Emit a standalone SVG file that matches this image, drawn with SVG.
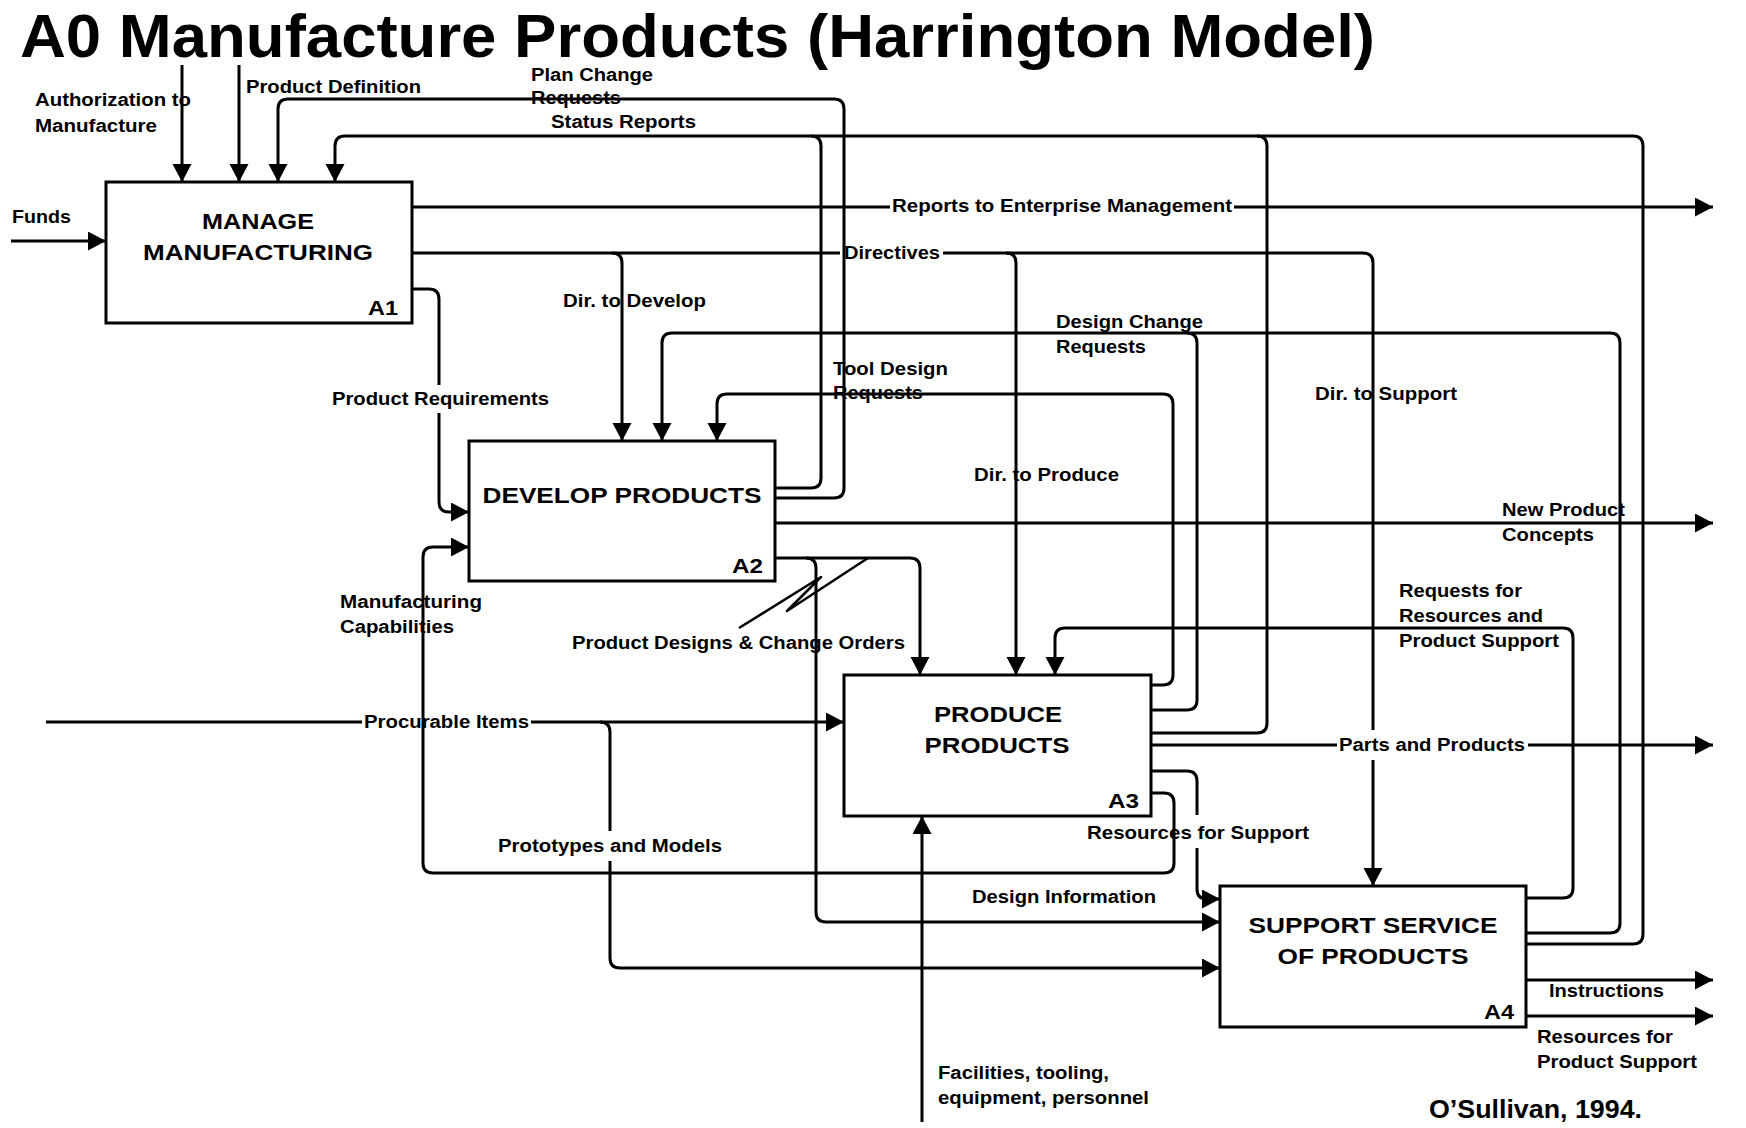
<svg xmlns="http://www.w3.org/2000/svg" width="1746" height="1128" viewBox="0 0 1746 1128">
<style>
  .box { fill: #fff; stroke: #000; stroke-width: 3; }
  .c { fill: none; stroke: #000; stroke-width: 3; stroke-linejoin: round; }
  .a { marker-end: url(#arr); }
  text { font-family: "Liberation Sans", Arial, sans-serif; font-weight: bold; fill: #000; }
  .lbl { font-size: 17.5px; }
  .nm { font-size: 22.5px; text-anchor: middle; }
  .id { font-size: 20px; text-anchor: end; }
</style>
<defs>
  <marker id="arr" markerUnits="userSpaceOnUse" markerWidth="20" markerHeight="20" refX="18" refY="9.5" orient="auto" viewBox="0 0 20 20">
    <path d="M0,0 L18,9.5 L0,19 z" fill="#000"/>
  </marker>
</defs>
<rect width="1746" height="1128" fill="#fff"/>
<text x="20" y="57" font-size="61" textLength="1355" lengthAdjust="spacingAndGlyphs">A0 Manufacture Products (Harrington Model)</text>

<g id="connectors">
  <path class="c a" d="M182,65 V182"/>
  <path class="c a" d="M239,65 V182"/>
  <path class="c a" d="M11,241 H106"/>
  <path class="c a" d="M775,498 H834 Q844,498 844,488 V109 Q844,99 834,99 H288 Q278,99 278,109 V182"/>
  <path class="c a" d="M1526,944 H1633 Q1643,944 1643,934 V146 Q1643,136 1633,136 H345 Q335,136 335,146 V182"/>
  <path class="c" d="M775,488 H811 Q821,488 821,478 V146 Q821,136 811,136"/>
  <path class="c" d="M1151,733 H1257 Q1267,733 1267,723 V146 Q1267,136 1257,136"/>
  <path class="c a" d="M412,207 H890 M1234,207 H1713"/>
  <path class="c a" d="M412,253 H840 M943,253 H1363 Q1373,253 1373,263 V730 M1373,760 V886"/>
  <path class="c a" d="M612,253 Q622,253 622,263 V441"/>
  <path class="c a" d="M1006,253 Q1016,253 1016,263 V675"/>
  <path class="c a" d="M412,289 H429 Q439,289 439,299 V385 M439,413 V502 Q439,512 449,512 H469"/>
  <path class="c a" d="M1526,933 H1610 Q1620,933 1620,923 V343 Q1620,333 1610,333 H672 Q662,333 662,343 V441"/>
  <path class="c" d="M1151,710 H1187 Q1197,710 1197,700 V343 Q1197,333 1187,333"/>
  <path class="c a" d="M1151,685 H1163 Q1173,685 1173,675 V404 Q1173,394 1163,394 H727 Q717,394 717,404 V441"/>
  <path class="c a" d="M1151,793 H1164 Q1174,793 1174,803 V863 Q1174,873 1164,873 H433 Q423,873 423,863 V557 Q423,547 433,547 H469"/>
  <path class="c a" d="M775,523 H1713"/>
  <path class="c a" d="M775,558 H910 Q920,558 920,568 V675"/>
  <path class="c a" d="M806,558 Q816,558 816,568 V912 Q816,922 826,922 H1220"/>
  <path class="c" style="stroke-width:2.5" d="M739,628 L821,577 L787,611 L868,558"/>
  <path class="c a" d="M46,722 H362 M531,722 H844"/>
  <path class="c a" d="M600,722 Q610,722 610,732 V831 M610,861 V958 Q610,968 620,968 H1220"/>
  <path class="c a" d="M1526,898 H1563 Q1573,898 1573,888 V638 Q1573,628 1563,628 H1065 Q1055,628 1055,638 V675"/>
  <path class="c a" d="M1151,745 H1337 M1528,745 H1713"/>
  <path class="c a" d="M1151,771 H1187 Q1197,771 1197,781 V815 M1197,848 V889 Q1197,899 1207,899 H1220"/>
  <path class="c a" d="M922,1122 V816"/>
  <path class="c a" d="M1526,980 H1713"/>
  <path class="c a" d="M1526,1016 H1713"/>
</g>

<g id="A1">
  <rect class="box" x="106" y="182" width="306" height="141"/>
  <text class="nm" x="258" y="229" textLength="112" lengthAdjust="spacingAndGlyphs">MANAGE</text>
  <text class="nm" x="258" y="260" textLength="230" lengthAdjust="spacingAndGlyphs">MANUFACTURING</text>
  <text class="id" x="398" y="315" textLength="30" lengthAdjust="spacingAndGlyphs">A1</text>
</g>
<g id="A2">
  <rect class="box" x="469" y="441" width="306" height="140"/>
  <text class="nm" x="622" y="503" textLength="279" lengthAdjust="spacingAndGlyphs">DEVELOP PRODUCTS</text>
  <text class="id" x="763" y="573" textLength="31" lengthAdjust="spacingAndGlyphs">A2</text>
</g>
<g id="A3">
  <rect class="box" x="844" y="675" width="307" height="141"/>
  <text class="nm" x="998" y="722" textLength="128" lengthAdjust="spacingAndGlyphs">PRODUCE</text>
  <text class="nm" x="997" y="753" textLength="145" lengthAdjust="spacingAndGlyphs">PRODUCTS</text>
  <text class="id" x="1139" y="808" textLength="31" lengthAdjust="spacingAndGlyphs">A3</text>
</g>
<g id="A4">
  <rect class="box" x="1220" y="886" width="306" height="141"/>
  <text class="nm" x="1373" y="933" textLength="249" lengthAdjust="spacingAndGlyphs">SUPPORT SERVICE</text>
  <text class="nm" x="1373" y="964" textLength="191" lengthAdjust="spacingAndGlyphs">OF PRODUCTS</text>
  <text class="id" x="1514" y="1019" textLength="30" lengthAdjust="spacingAndGlyphs">A4</text>
</g>

<g id="labels" class="lbl">
  <text class="lbl" x="35" y="106" textLength="156" lengthAdjust="spacingAndGlyphs">Authorization to</text>
  <text class="lbl" x="35" y="132" textLength="122" lengthAdjust="spacingAndGlyphs">Manufacture</text>
  <text class="lbl" x="246" y="93" textLength="175" lengthAdjust="spacingAndGlyphs">Product Definition</text>
  <text class="lbl" x="12" y="223" textLength="59" lengthAdjust="spacingAndGlyphs">Funds</text>
  <text class="lbl" x="531" y="81" textLength="122" lengthAdjust="spacingAndGlyphs">Plan Change</text>
  <text class="lbl" x="531" y="104" textLength="90" lengthAdjust="spacingAndGlyphs">Requests</text>
  <text class="lbl" x="551" y="128" textLength="145" lengthAdjust="spacingAndGlyphs">Status Reports</text>
  <text class="lbl" x="892" y="212" textLength="340" lengthAdjust="spacingAndGlyphs">Reports to Enterprise Management</text>
  <text class="lbl" x="844" y="259" textLength="96" lengthAdjust="spacingAndGlyphs">Directives</text>
  <text class="lbl" x="563" y="307" textLength="143" lengthAdjust="spacingAndGlyphs">Dir. to Develop</text>
  <text class="lbl" x="1056" y="328" textLength="147" lengthAdjust="spacingAndGlyphs">Design Change</text>
  <text class="lbl" x="1056" y="353" textLength="90" lengthAdjust="spacingAndGlyphs">Requests</text>
  <text class="lbl" x="833" y="375" textLength="115" lengthAdjust="spacingAndGlyphs">Tool Design</text>
  <text class="lbl" x="833" y="399" textLength="90" lengthAdjust="spacingAndGlyphs">Requests</text>
  <text class="lbl" x="332" y="405" textLength="217" lengthAdjust="spacingAndGlyphs">Product Requirements</text>
  <text class="lbl" x="340" y="608" textLength="142" lengthAdjust="spacingAndGlyphs">Manufacturing</text>
  <text class="lbl" x="340" y="633" textLength="114" lengthAdjust="spacingAndGlyphs">Capabilities</text>
  <text class="lbl" x="364" y="728" textLength="165" lengthAdjust="spacingAndGlyphs">Procurable Items</text>
  <text class="lbl" x="572" y="649" textLength="333" lengthAdjust="spacingAndGlyphs">Product Designs &amp; Change Orders</text>
  <text class="lbl" x="974" y="481" textLength="145" lengthAdjust="spacingAndGlyphs">Dir. to Produce</text>
  <text class="lbl" x="1315" y="400" textLength="142" lengthAdjust="spacingAndGlyphs">Dir. to Support</text>
  <text class="lbl" x="1502" y="516" textLength="123" lengthAdjust="spacingAndGlyphs">New Product</text>
  <text class="lbl" x="1502" y="541" textLength="92" lengthAdjust="spacingAndGlyphs">Concepts</text>
  <text class="lbl" x="1399" y="597" textLength="123" lengthAdjust="spacingAndGlyphs">Requests for</text>
  <text class="lbl" x="1399" y="622" textLength="144" lengthAdjust="spacingAndGlyphs">Resources and</text>
  <text class="lbl" x="1399" y="647" textLength="160" lengthAdjust="spacingAndGlyphs">Product Support</text>
  <text class="lbl" x="1339" y="751" textLength="186" lengthAdjust="spacingAndGlyphs">Parts and Products</text>
  <text class="lbl" x="1087" y="839" textLength="222" lengthAdjust="spacingAndGlyphs">Resources for Support</text>
  <text class="lbl" x="498" y="852" textLength="224" lengthAdjust="spacingAndGlyphs">Prototypes and Models</text>
  <text class="lbl" x="972" y="903" textLength="184" lengthAdjust="spacingAndGlyphs">Design Information</text>
  <text class="lbl" x="938" y="1079" textLength="171" lengthAdjust="spacingAndGlyphs">Facilities, tooling,</text>
  <text class="lbl" x="938" y="1104" textLength="211" lengthAdjust="spacingAndGlyphs">equipment, personnel</text>
  <text class="lbl" x="1549" y="997" textLength="115" lengthAdjust="spacingAndGlyphs">Instructions</text>
  <text class="lbl" x="1537" y="1043" textLength="136" lengthAdjust="spacingAndGlyphs">Resources for</text>
  <text class="lbl" x="1537" y="1068" textLength="160" lengthAdjust="spacingAndGlyphs">Product Support</text>
  <text x="1429" y="1118" font-size="25" textLength="213" lengthAdjust="spacingAndGlyphs">O’Sullivan, 1994.</text>
</g>
</svg>
